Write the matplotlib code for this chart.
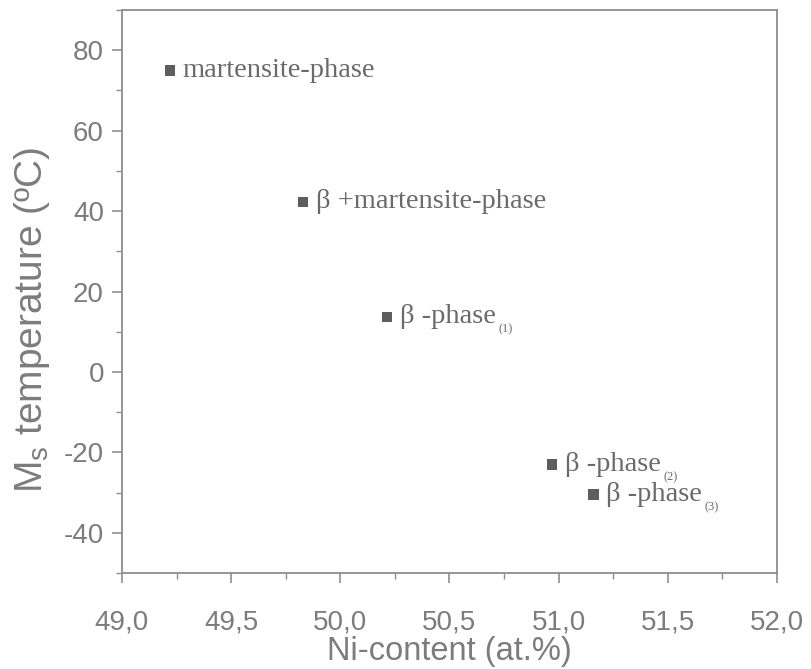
import matplotlib
matplotlib.use("Agg")
import matplotlib.pyplot as plt
from matplotlib.ticker import MultipleLocator, FuncFormatter

# Ni content (at.%) and Ms temperature (°C) for each phase state
ni_content = [49.22, 49.83, 50.215, 50.97, 51.16]
ms_temp = [75.0, 42.3, 13.7, -23.0, -30.5]
phase_names = [
    "martensite-phase",
    "β +martensite-phase",
    "β -phase",
    "β -phase",
    "β -phase",
]
phase_index = ["", "", "(1)", "(2)", "(3)"]

x_ticks = [49.0, 49.5, 50.0, 50.5, 51.0, 51.5, 52.0]
y_ticks = [-40, -20, 0, 20, 40, 60, 80]

axis_grey = "#8e8e8e"
text_grey = "#7c7c7c"
mark_grey = "#5e5e5e"
note_grey = "#6a6a6a"

fig = plt.figure(figsize=(8.11, 6.69), dpi=100)
ax = fig.add_axes([0.1504, 0.1435, 0.8076, 0.8415])

ax.scatter(ni_content, ms_temp, marker="s", s=55, color=mark_grey,
           edgecolors="none", zorder=3)

for x, y, name, idx in zip(ni_content, ms_temp, phase_names, phase_index):
    main = ax.annotate(name, (x, y), xytext=(9, 0), textcoords="offset points",
                       ha="left", va="center", fontsize=20.5,
                       family="Liberation Serif", color=note_grey)
    if idx:
        ax.annotate(idx, xy=(1.0, 0.0), xycoords=main, xytext=(2, 0),
                    textcoords="offset points", ha="left", va="center",
                    fontsize=9, family="Liberation Serif", color=note_grey)

ax.set_xlim(49.0, 52.0)
ax.set_ylim(-50, 90)
ax.set_xticks(x_ticks)
ax.set_yticks(y_ticks)
ax.xaxis.set_minor_locator(MultipleLocator(0.25))
ax.yaxis.set_minor_locator(MultipleLocator(10))
ax.xaxis.set_major_formatter(FuncFormatter(lambda v, p: f"{v:.1f}".replace(".", ",")))
ax.yaxis.set_major_formatter(FuncFormatter(lambda v, p: f"{v:.0f}"))

for side in ["left", "bottom", "right", "top"]:
    ax.spines[side].set_color(axis_grey)
    ax.spines[side].set_linewidth(1.3)

ax.tick_params(which="major", direction="out", length=7, width=1.2,
               color=axis_grey, labelcolor=text_grey, labelsize=20,
               top=False, right=False)
ax.tick_params(axis="y", which="major", pad=6)
ax.tick_params(axis="x", which="major", pad=19)
ax.tick_params(which="minor", direction="out", length=4, width=1.0,
               color=axis_grey, top=False, right=False)
for lbl in ax.get_xticklabels() + ax.get_yticklabels():
    lbl.set_family("Liberation Sans")

ax.set_xlabel("Ni-content (at.%)", fontsize=23.5, color=text_grey,
              family="Liberation Sans", labelpad=1)
ax.set_ylabel(r"M$_{\mathregular{s}}$ temperature (ºC)", fontsize=28,
              color=text_grey, family="Liberation Sans")
ax.yaxis.set_label_coords(-0.107, 0.45)

fig.savefig("out.png", dpi=100, facecolor="white")
